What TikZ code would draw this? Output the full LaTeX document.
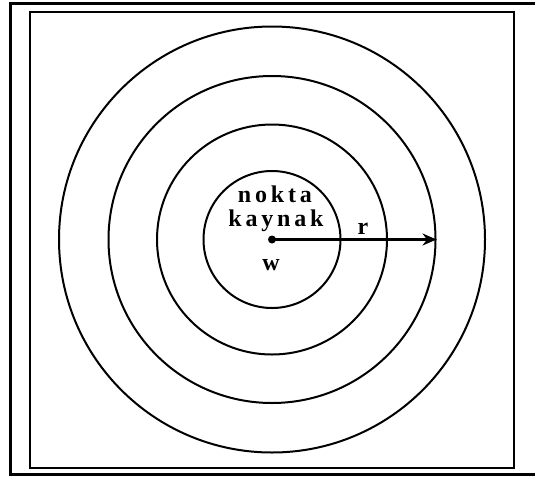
\documentclass[tikz,border=0pt]{standalone}
\usepackage{fontspec}
\setmainfont{Liberation Serif}
\newfontfamily\lblfont[LetterSpace=16]{Liberation Serif}
\usetikzlibrary{arrows.meta}
\tikzset{
  ring/.style={circle, draw, line width=2pt, inner sep=0pt, minimum size=#1},
  lbl/.style={font=\lblfont\bfseries\fontsize{24}{26}\selectfont, anchor=base, inner sep=0pt},
  plain/.style={font=\bfseries\fontsize{24}{26}\selectfont, anchor=base, inner sep=0pt}
}
\begin{document}
\begin{tikzpicture}[x=1pt,y=-1pt]
\useasboundingbox (0,0) rectangle (535,477);
\begin{scope}
\clip (0,0) rectangle (535,477);
\draw[line width=3.5pt] (545,3.5) -- (10.5,3.5) -- (10.5,474.5) -- (545,474.5);
\end{scope}
\draw[line width=2.2pt] (30,12) rectangle (514,468);
\coordinate (o) at (272,239.5);
\node[ring=137pt] (c1) at (o) {};
\node[ring=230pt] (c2) at (o) {};
\node[ring=327pt] (c3) at (o) {};
\node[ring=426pt] (c4) at (o) {};
\fill (o) circle (4pt);
\draw[line width=2.6pt, -{Stealth[length=14pt,width=12pt]}] (o) -- (c3.east);
\node[lbl] (nokta) at (275,202) {nokta};
\node[lbl] (kaynak) at (276,226) {kaynak};
\node[plain] (r) at (363,234) {r};
\node[plain] (w) at (271,270) {w};
\end{tikzpicture}
\end{document}
